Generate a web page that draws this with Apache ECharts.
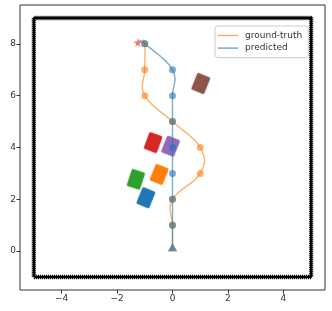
<!DOCTYPE html>
<html>
<head>
<meta charset="utf-8">
<script src="https://cdn.jsdelivr.net/npm/echarts@6/dist/echarts.min.js"></script>
<style>html,body{margin:0;padding:0;background:#fff;}#c{width:332px;height:311px;}</style>
</head>
<body>
<div id="c"></div>
<script>
// ---- data ----
const xTicks = [-4, -2, 0, 2, 4];
const yTicks = [0, 2, 4, 6, 8];
const boundaryX = [-5, 5, 5, -5, -5];
const boundaryY = [-1, -1, 9, 9, -1];
// ground-truth trajectory
const gtX = [0, 0, 0, 1, 1, 0, -1, -1, -1, -1.1];
const gtY = [0, 1, 2, 3, 4, 5, 6, 7, 8, 8.13];
// predicted trajectory
const prX = [0, 0, 0, 0, 0, 0, 0, 0, -1, -1.2];
const prY = [0, 1, 2, 3, 4, 5, 6, 7, 8, 8.1];
// waypoint markers (indices 1..8 of each trajectory)
const markIdx = [1, 2, 3, 4, 5, 6, 7, 8];
const startPt = [0, 0];
const goalPt = [-1.25, 8.05];
// obstacles (cars)
const carX = [-0.96, -1.32, -0.48, -0.70, -0.07, 1.02];
const carY = [2.06, 2.77, 2.96, 4.19, 4.05, 6.47];
const carAngle = [22, 18, 22, 20, 22, 22];
const carColors = ['#1f77b4', '#2ca02c', '#ff7f0e', '#d62728', '#9467bd', '#8c564b'];
const carW = 0.4, carL = 0.58;

const zip = (a, b) => a.map((v, i) => [v, b[i]]);
const font = 'DejaVu Sans';
const TENSION = 0.21;

// smooth curve through the trajectory points, positioned by the chart's own coordinate system
function trajRender(xs, ys, color) {
  return (params, api) => {
    const P = xs.map((x, i) => api.coord([x, ys[i]]));
    const n = P.length;
    const children = [];
    for (let i = 0; i < n - 1; i++) {
      const p0 = P[Math.max(i - 1, 0)], p1 = P[i], p2 = P[i + 1], p3 = P[Math.min(i + 2, n - 1)];
      children.push({
        type: 'bezierCurve',
        shape: {
          x1: p1[0], y1: p1[1], x2: p2[0], y2: p2[1],
          cpx1: p1[0] + (p2[0] - p0[0]) * TENSION, cpy1: p1[1] + (p2[1] - p0[1]) * TENSION,
          cpx2: p2[0] - (p3[0] - p1[0]) * TENSION, cpy2: p2[1] - (p3[1] - p1[1]) * TENSION
        },
        style: {stroke: color, lineWidth: 1.4, fill: null, opacity: 0.6}
      });
    }
    return {type: 'group', children};
  };
}

const chart = echarts.init(document.getElementById('c'), null, {renderer: 'canvas'});
chart.setOption({
  animation: false,
  backgroundColor: '#fff',
  grid: {left: 20, right: 7, top: 5, bottom: 21, show: true, borderColor: '#333', borderWidth: 1, backgroundColor: 'transparent'},
  xAxis: {
    type: 'value', min: -5.5, max: 5.5,
    axisLine: {show: false, onZero: false},
    splitLine: {show: false},
    axisTick: {show: true, customValues: xTicks, length: 3.5, lineStyle: {color: '#333'}},
    axisLabel: {customValues: xTicks, fontFamily: font, fontSize: 9, color: '#333', margin: 4,
      formatter: v => (v < 0 ? '\u2212' + (-v) : '' + v)}
  },
  yAxis: {
    type: 'value', min: -1.5, max: 9.5,
    axisLine: {show: false, onZero: false},
    splitLine: {show: false},
    axisTick: {show: true, customValues: yTicks, length: 3.5, lineStyle: {color: '#333'}},
    axisLabel: {customValues: yTicks, fontFamily: font, fontSize: 9, color: '#333', margin: 4}
  },
  legend: {
    orient: 'vertical', left: 215, top: 26,
    width: 92,
    padding: [4, 6, 4, 3],
    backgroundColor: 'rgba(255,255,255,0.8)',
    borderColor: '#ccc', borderWidth: 1, borderRadius: 3,
    icon: 'rect',
    itemWidth: 20, itemHeight: 1.4, itemGap: 1.6,
    textStyle: {fontFamily: font, fontSize: 9, color: '#333', padding: [0, 0, 0, 2], lineHeight: 11},
    data: [
      {name: 'ground-truth', itemStyle: {color: 'rgba(255,127,14,0.65)'}},
      {name: 'predicted', itemStyle: {color: 'rgba(31,119,180,0.65)'}}
    ]
  },
  series: [
    {
      type: 'line', name: 'boundary', data: zip(boundaryX, boundaryY), symbol: 'none',
      lineStyle: {color: '#000', width: 2.4}, z: 1, silent: true
    },
    {
      type: 'line', name: 'boundary2', data: zip(boundaryX, boundaryY), symbol: 'none',
      lineStyle: {color: '#000', width: 4.4, type: [1, 1]}, z: 1, silent: true
    },
    {
      type: 'custom', name: 'cars', data: zip(carX, carY).map((p, i) => [p[0], p[1], carAngle[i]]),
      z: 2,
      renderItem: (params, api) => {
        const c = api.coord([api.value(0), api.value(1)]);
        const s = api.size([carW, carL]);
        const a = api.value(2) * Math.PI / 180;
        const hw = s[0] / 2, hl = s[1] / 2;
        const pts = [[-hw, -hl], [hw, -hl], [hw, hl], [-hw, hl]].map(([dx, dy]) =>
          [c[0] + dx * Math.cos(a) - dy * Math.sin(a), c[1] + dx * Math.sin(a) + dy * Math.cos(a)]);
        const col = carColors[params.dataIndex];
        return {type: 'polygon', shape: {points: pts},
          style: {fill: col, stroke: col, lineWidth: 2.4, lineJoin: 'round', opacity: 0.92, shadowBlur: 1.5, shadowColor: col}};
      }
    },
    {
      type: 'custom', name: 'ground-truth', data: [[gtX[0], gtY[0]]], z: 3,
      itemStyle: {color: '#ff7f0e'},
      renderItem: trajRender(gtX, gtY, '#ff7f0e')
    },
    {
      type: 'custom', name: 'predicted', data: [[prX[0], prY[0]]], z: 3,
      itemStyle: {color: '#1f77b4'},
      renderItem: trajRender(prX, prY, '#1f77b4')
    },
    {
      type: 'scatter', name: 'gtPts', data: markIdx.map(i => [gtX[i], gtY[i]]), symbolSize: 7,
      itemStyle: {color: '#ff7f0e', opacity: 0.6}, z: 4
    },
    {
      type: 'scatter', name: 'prPts', data: markIdx.map(i => [prX[i], prY[i]]), symbolSize: 7,
      itemStyle: {color: '#1f77b4', opacity: 0.6}, z: 4
    },
    {
      type: 'scatter', name: 'start', data: [startPt, startPt], symbol: 'triangle', symbolSize: [9, 8],
      symbolOffset: [0, -4],
      itemStyle: {color: '#808080', opacity: 0.6}, z: 5
    },
    {
      type: 'scatter', name: 'startB', data: [startPt], symbol: 'triangle', symbolSize: [9, 8],
      symbolOffset: [0, -4],
      itemStyle: {color: '#1f77b4', opacity: 0.35}, z: 5
    },
    {
      type: 'scatter', name: 'goal', data: [goalPt], symbol: 'path://M50,0 L61,35 L98,35 L68,57 L79,91 L50,70 L21,91 L32,57 L2,35 L39,35 Z',
      symbolSize: 9, itemStyle: {color: '#e8423f', opacity: 0.7}, z: 5
    }
  ]
});
</script>
</body>
</html>
